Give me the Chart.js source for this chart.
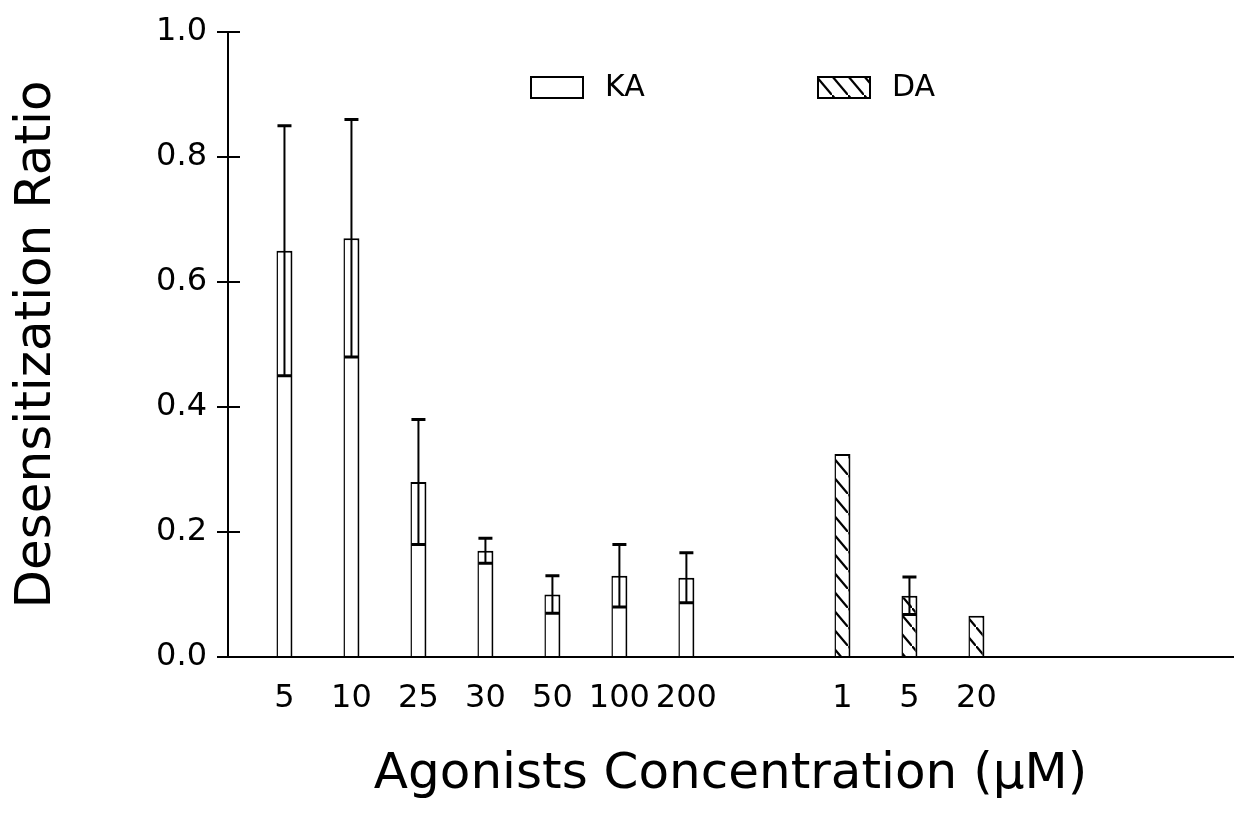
<!DOCTYPE html>
<html>
<head>
<meta charset="utf-8">
<script src="https://cdn.jsdelivr.net/npm/chart.js@4.4.1/dist/chart.umd.min.js"></script>
<style>
html, body { margin: 0; padding: 0; background: #fff; }
#wrap { width: 1235px; height: 819px; position: relative; }
</style>
</head>
<body>
<div id="wrap"><canvas id="c"></canvas></div>
<script>
// ---- data ----
const kaLabels = ['5', '10', '25', '30', '50', '100', '200'];
const kaValues = [0.65, 0.67, 0.28, 0.17, 0.10, 0.13, 0.127];
const kaErrors = [0.20, 0.19, 0.10, 0.02, 0.03, 0.05, 0.04];
const daLabels = ['1', '5', '20'];
const daValues = [0.325, 0.098, 0.066];
const daErrors = [0, 0.03, 0];
const seriesNames = ['KA', 'DA'];
const yTickValues = [0, 0.2, 0.4, 0.6, 0.8, 1.0];
const yTitle = 'Desensitization Ratio';
const xTitle = 'Agonists Concentration (\u03BCM)';

// ---- layout helpers (category slots on a linear axis) ----
const GROUP_GAP = 2.33;
const daStart = kaLabels.length - 1 + GROUP_GAP;
const tickLabels = kaLabels.concat(daLabels);
const tickPositions = kaLabels.map((_, i) => i).concat(daLabels.map((_, j) => daStart + j));

const FONT = "'DejaVu Sans', sans-serif";
Chart.defaults.font.family = FONT;
Chart.defaults.color = '#000';

function makeHatch() {
  const c = document.createElement('canvas');
  c.width = 16; c.height = 19;
  const g = c.getContext('2d');
  g.fillStyle = '#fff';
  g.fillRect(0, 0, 16, 19);
  g.strokeStyle = '#000';
  g.lineWidth = 2.2;
  g.beginPath();
  g.moveTo(-16, -19);
  g.lineTo(32, 38);
  g.stroke();
  return g.createPattern(c, 'repeat');
}
const hatch = makeHatch();

const errorBars = {
  id: 'errorBars',
  afterDatasetsDraw(chart) {
    const ctx = chart.ctx;
    const y = chart.scales.y;
    chart.data.datasets.forEach((ds, di) => {
      const meta = chart.getDatasetMeta(di);
      if (!ds.errors) return;
      meta.data.forEach((bar, i) => {
        const e = ds.errors[i];
        if (!e) return;
        const v = ds.data[i].y;
        const top = y.getPixelForValue(v + e);
        const bot = y.getPixelForValue(v - e);
        const x = bar.x;
        ctx.save();
        ctx.strokeStyle = '#000';
        ctx.lineWidth = 2;
        ctx.beginPath();
        ctx.moveTo(x, top); ctx.lineTo(x, bot);
        ctx.stroke();
        ctx.lineWidth = 3;
        ctx.beginPath();
        ctx.moveTo(x - 7, top); ctx.lineTo(x + 7, top);
        ctx.moveTo(x - 7, bot); ctx.lineTo(x + 7, bot);
        ctx.stroke();
        ctx.restore();
      });
    });
  }
};

const innerTicks = {
  id: 'innerTicks',
  afterDraw(chart) {
    const ctx = chart.ctx;
    const y = chart.scales.y;
    const left = chart.chartArea.left;
    ctx.save();
    ctx.strokeStyle = '#000';
    ctx.lineWidth = 2;
    y.ticks.forEach(t => {
      const p = y.getPixelForValue(t.value);
      ctx.beginPath();
      ctx.moveTo(left, p); ctx.lineTo(left + 12, p);
      ctx.stroke();
    });
    ctx.restore();
  }
};

const inlineLegend = {
  id: 'inlineLegend',
  afterDraw(chart) {
    const ctx = chart.ctx;
    const area = chart.chartArea;
    const boxLefts = [area.left + 303, area.left + 590];
    const boxW = 52, boxH = 21, boxTop = 77;
    ctx.save();
    chart.data.datasets.forEach((ds, i) => {
      const bx = boxLefts[i];
      ctx.fillStyle = ds.backgroundColor;
      ctx.fillRect(bx, boxTop, boxW, boxH);
      ctx.strokeStyle = '#000';
      ctx.lineWidth = 2;
      ctx.strokeRect(bx, boxTop, boxW, boxH);
      ctx.fillStyle = '#000';
      ctx.font = '30px ' + FONT;
      ctx.textBaseline = 'middle';
      ctx.textAlign = 'left';
      ctx.fillText(ds.label, bx + boxW + 22, boxTop + boxH / 2 + 1);
    });
    ctx.restore();
  }
};

new Chart(document.getElementById('c'), {
  type: 'bar',
  data: {
    datasets: [
      {
        label: seriesNames[0],
        data: kaValues.map((v, i) => ({ x: tickPositions[i], y: v })),
        errors: kaErrors,
        backgroundColor: '#fff',
        borderColor: '#000',
        borderWidth: { top: 2, left: 1.5, right: 2, bottom: 0 },
        borderSkipped: 'bottom',
        grouped: false,
        maxBarThickness: 16
      },
      {
        label: seriesNames[1],
        data: daValues.map((v, j) => ({ x: tickPositions[kaLabels.length + j], y: v })),
        errors: daErrors,
        backgroundColor: hatch,
        borderColor: '#000',
        borderWidth: { top: 2, left: 1.5, right: 2, bottom: 0 },
        borderSkipped: 'bottom',
        grouped: false,
        maxBarThickness: 16
      }
    ]
  },
  options: {
    responsive: true,
    maintainAspectRatio: false,
    animation: false,
    layout: { padding: { top: 32, right: 2, bottom: 0, left: 0 } },
    plugins: {
      legend: { display: false },
      tooltip: { enabled: false }
    },
    scales: {
      x: {
        type: 'linear',
        offset: false,
        bounds: 'data',
        min: -0.843,
        max: 14.16,
        afterBuildTicks: s => { s.ticks = tickPositions.map(v => ({ value: v })); },
        afterFit: s => { s.height = 162; s.paddingLeft = 0; s.paddingRight = 0; },
        ticks: {
          autoSkip: false,
          maxRotation: 0,
          minRotation: 0,
          padding: 22,
          font: { size: 32 },
          color: '#000',
          callback: (v, i) => tickLabels[i]
        },
        grid: { drawOnChartArea: false, drawTicks: false },
        border: { color: '#000', width: 2 },
        title: {
          display: true,
          text: xTitle,
          font: { size: 50 },
          color: '#000',
          padding: { top: 0, bottom: 14 }
        }
      },
      y: {
        min: 0,
        max: 1.0,
        afterBuildTicks: s => { s.ticks = yTickValues.map(v => ({ value: v })); },
        afterFit: s => { s.width = 228; s.paddingTop = 0; s.paddingBottom = 0; },
        ticks: {
          padding: 10,
          font: { size: 32 },
          color: '#000',
          callback: v => Number(v).toFixed(1)
        },
        grid: { drawOnChartArea: false, drawTicks: true, tickLength: 11, color: '#000', lineWidth: 2 },
        border: { color: '#000', width: 2 },
        title: {
          display: true,
          text: yTitle,
          font: { size: 50 },
          color: '#000',
          padding: { top: 7, bottom: 0 }
        }
      }
    }
  },
  plugins: [errorBars, innerTicks, inlineLegend]
});
</script>
</body>
</html>
